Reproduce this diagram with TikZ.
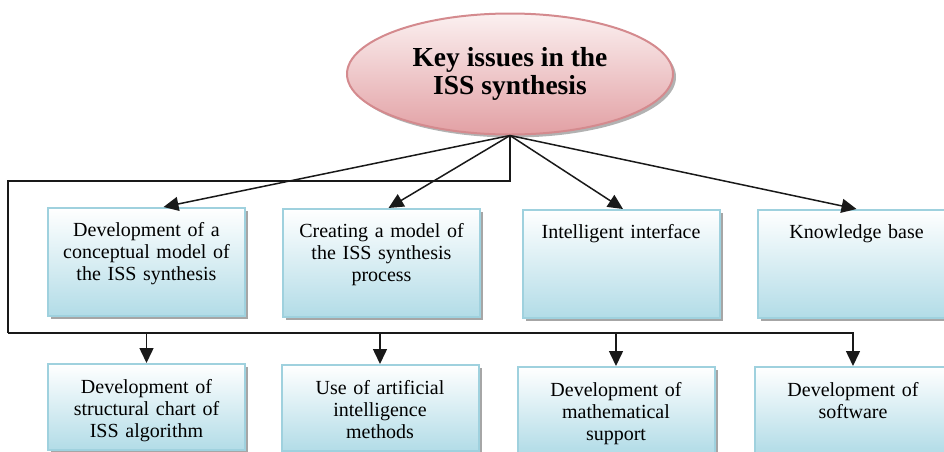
\documentclass[tikz,border=0pt]{standalone}
\usepackage{fontspec}
\setmainfont{Liberation Serif}
\usetikzlibrary{arrows.meta,shapes.geometric,shadows}
\definecolor{boxblue}{HTML}{B2DCE7}
\definecolor{boxline}{HTML}{9FD1DE}
\definecolor{pinktop}{HTML}{FBF0F0}
\definecolor{pinkbot}{HTML}{E2A0A4}
\definecolor{pinkline}{HTML}{D48A8E}
\begin{document}
\begin{tikzpicture}[
  x=1pt, y=-1pt,
  link/.style={draw=black!90, line width=1.5pt, -{Triangle[width=14pt,length=15pt]}},
  bus/.style={draw=black!90, line width=1.5pt},
  issue/.style={rectangle, draw=boxline, line width=2pt, top color=white, bottom color=boxblue,
    inner sep=0pt, text width=197pt, align=center, anchor=north, font=\fontsize{20}{22}\selectfont,
    drop shadow={shadow xshift=3pt, shadow yshift=-3pt, fill=black!35, opacity=1}},
  top issue/.style={issue, text height=28pt, text depth=80pt},
  low issue/.style={issue, text height=29pt, text depth=57pt},
  key/.style={ellipse, draw=pinkline, line width=2pt, top color=pinktop, bottom color=pinkbot,
    minimum width=326pt, minimum height=121pt, inner sep=0pt, align=center,
    font=\bfseries\fontsize{27.5}{28.5}\selectfont,
    drop shadow={shadow xshift=3pt, shadow yshift=-3pt, fill=black!30, opacity=1}}
]
  \useasboundingbox (0,0) rectangle (944,451);
  \clip (0,0) rectangle (944,451);

  \node[key] (key) at (510,74) {Key issues in the\\ISS synthesis};

  \node[top issue] (t1) at (146.5,207) {Development of a\\conceptual model of\\the ISS synthesis};
  \node[top issue] (t2) at (381.5,208) {Creating a model of\\the ISS synthesis\\process};
  \node[top issue] (t3) at (621,209) {Intelligent interface};
  \node[top issue] (t4) at (856.5,209) {Knowledge base};

  \node[low issue] (b1) at (146.5,363) {Development of\\structural chart of\\ISS algorithm};
  \node[low issue] (b2) at (380,364) {Use of artificial\\intelligence\\methods};
  \node[low issue] (b3) at (616,366) {Development of\\mathematical\\support};
  \node[low issue] (b4) at (853,366) {Development of\\software};

  \foreach \n/\dx in {t1/17,t2/7,t3/2,t4/0}
    \draw[link] (key.south) -- ([xshift=\dx pt]\n.north);

  \coordinate (busleft) at (8,181);
  \coordinate (buscorner) at (8,333);
  \draw[bus] (key.south) |- (busleft) -- (buscorner);
  \draw[link] (buscorner) -| (b4.north);
  \foreach \n in {b1,b2,b3}
    \draw[link] (\n.north |- buscorner) -- (\n.north);
\end{tikzpicture}
\end{document}
